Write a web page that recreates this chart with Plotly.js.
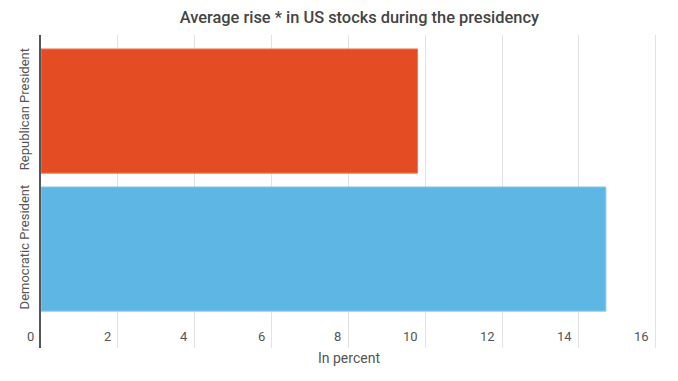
<!DOCTYPE html>
<html><head><meta charset="utf-8">
<script src="https://cdn.plot.ly/plotly-3.0.1.min.js"></script>
<style>html,body{margin:0;padding:0;background:#fff}#chart{width:678px;height:381px}</style>
</head><body><div id="chart"></div>
<script>
const categories = ["Democratic President", "Republican President"];
const values = [14.7, 9.8];
const colors = ["#5DB6E4", "#E44D24"];
const xTicks = [0, 2, 4, 6, 8, 10, 12, 14, 16];

const tickAnnotations = xTicks.map(v => ({
  x: v, xref: "x", y: 0, yref: "paper",
  text: String(v), showarrow: false,
  xanchor: "right", yanchor: "bottom", xshift: -5, yshift: 2,
  font: {family: "Roboto, sans-serif", size: 13, color: "#555"}
}));

Plotly.newPlot("chart", [{
  type: "bar",
  orientation: "h",
  y: categories,
  x: values,
  width: 0.9,
  marker: {color: colors, line: {color: ["#8CCBEC", "#F07A58"], width: 1}},
  hoverinfo: "none"
}], {
  width: 678, height: 381,
  margin: {l: 41, r: 21, t: 35, b: 33},
  paper_bgcolor: "#fff", plot_bgcolor: "#fff",
  font: {family: "Roboto, sans-serif", color: "#555"},
  title: {text: "Average rise * in US stocks during the presidency", x: 0.53, xanchor: "center", y: 0.955, yanchor: "middle",
          font: {family: "Roboto, sans-serif", size: 16.4, color: "#444", weight: 500}},
  showlegend: false,
  annotations: tickAnnotations,
  xaxis: {
    range: [0, 16.03], tickvals: xTicks,
    showticklabels: false,
    showgrid: true, gridcolor: "#e2e2e2", gridwidth: 1,
    zeroline: false, showline: false, ticks: "",
    title: {text: "In percent", font: {size: 14, color: "#555"}, standoff: 5}
  },
  yaxis: {
    type: "category", categoryarray: categories, range: [-0.717, 1.551],
    showgrid: false, zeroline: false,
    showline: true, linecolor: "#555", linewidth: 2,
    ticks: "", tickangle: -90,
    tickfont: {size: 13, color: "#555"},
    ticklabelstandoff: 5
  }
}, {staticPlot: true});
</script></body></html>
